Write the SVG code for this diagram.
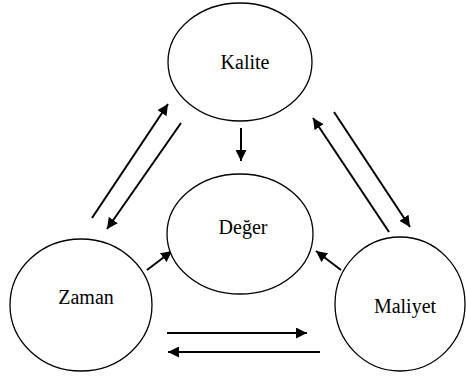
<svg xmlns="http://www.w3.org/2000/svg" width="466" height="379" viewBox="0 0 466 379">
  <style>
    .node ellipse { fill: #ffffff; stroke: #000000; stroke-width: 1.3; }
    .node text { font-family: "Liberation Serif", "Times New Roman", serif; font-size: 20px; fill: #000000; text-anchor: middle; }
    .edge { stroke: #000000; stroke-width: 2; fill: none; marker-end: url(#arrow); }
  </style>
  <defs>
    <marker id="arrow" viewBox="0 0 10 10" refX="10" refY="5" markerWidth="5.5" markerHeight="5.5" orient="auto" markerUnits="strokeWidth">
      <path d="M0,0 L10,5 L0,10 Z" fill="#000000"/>
    </marker>
  </defs>
  <rect width="466" height="379" fill="#ffffff"/>

  <g id="connectors">
    <!-- Kalite to Değer -->
    <line class="edge" x1="241" y1="128" x2="241" y2="161"/>
    <!-- Zaman / Kalite pair -->
    <line class="edge" x1="92" y1="218" x2="168" y2="104"/>
    <line class="edge" x1="181" y1="123" x2="107" y2="229"/>
    <!-- Kalite / Maliyet pair -->
    <line class="edge" x1="389" y1="232" x2="313" y2="118"/>
    <line class="edge" x1="334" y1="112" x2="410" y2="227"/>
    <!-- Zaman / Maliyet pair -->
    <line class="edge" x1="167" y1="333" x2="307" y2="333"/>
    <line class="edge" x1="320" y1="352" x2="168" y2="352"/>
    <!-- Zaman and Maliyet to Değer -->
    <line class="edge" x1="147" y1="270" x2="172" y2="251"/>
    <line class="edge" x1="341" y1="270" x2="316" y2="251"/>
  </g>

  <g id="kalite" class="node">
    <ellipse cx="240" cy="62" rx="72" ry="59"/>
    <text x="245" y="69">Kalite</text>
  </g>
  <g id="deger" class="node">
    <ellipse cx="240" cy="234" rx="73" ry="60"/>
    <text x="243" y="234">Değer</text>
  </g>
  <g id="zaman" class="node">
    <ellipse cx="81" cy="305" rx="71" ry="66"/>
    <text x="86" y="304">Zaman</text>
  </g>
  <g id="maliyet" class="node">
    <ellipse cx="400" cy="304" rx="65" ry="67"/>
    <text x="405" y="313">Maliyet</text>
  </g>
</svg>
